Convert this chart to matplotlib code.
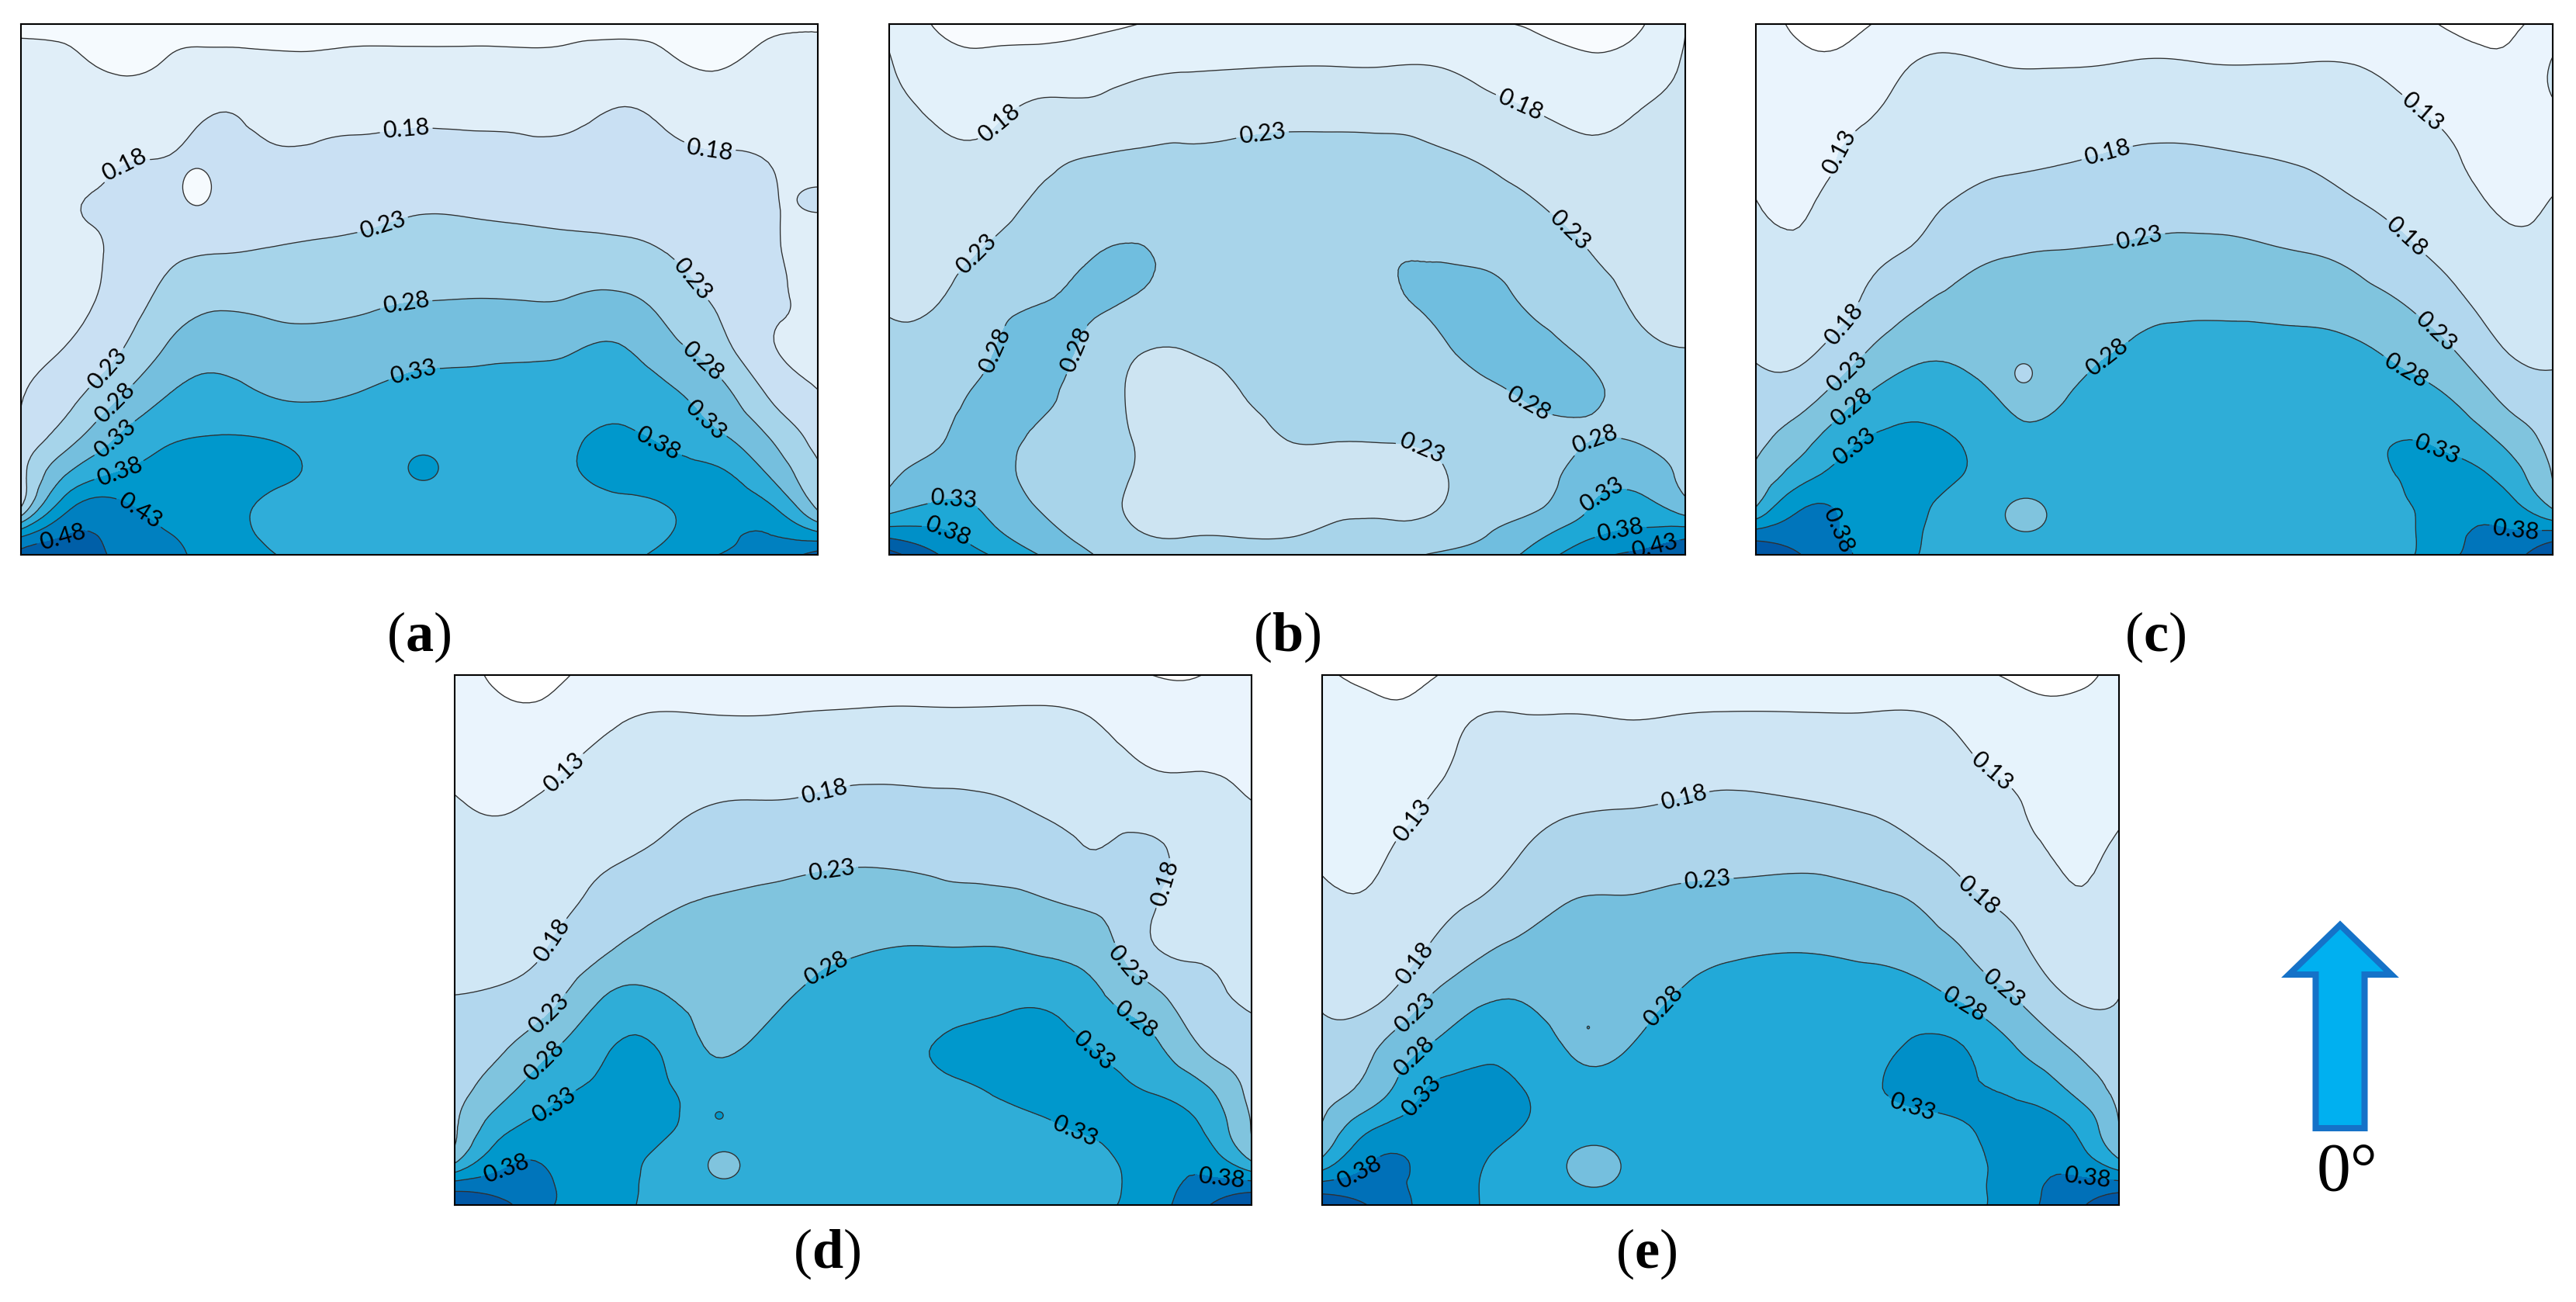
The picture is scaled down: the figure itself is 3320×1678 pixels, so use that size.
import numpy as np
import matplotlib
matplotlib.use('Agg')
import matplotlib.pyplot as plt
import matplotlib.tri as mtri
from matplotlib.patches import FancyArrow, Ellipse

plt.rcParams['font.family'] = ['Lato', 'DejaVu Sans']
plt.rcParams['mathtext.fontset'] = 'custom'
plt.rcParams['mathtext.rm'] = 'Liberation Serif'
plt.rcParams['mathtext.bf'] = 'Liberation Serif:bold'

W, H = 3320, 1678

levels = [0, 0.08, 0.13, 0.18, 0.23, 0.28, 0.33, 0.38, 0.43, 0.48, 1]
line_levels = [0.08, 0.13, 0.18, 0.23, 0.28, 0.33, 0.38, 0.43, 0.48]

# sample rows, top to bottom, as fraction of panel height
v_rows = [1.0, .92, .84, .75, .66, .57, .48, .39, .30, .22, .15, .09, .04, 0.0]

# values, one list per column, left to right
panel_a = [
    [.128, .134, .140, .146, .153, .159, .165, .170, .178, .194, .213, .229, .410, .500],
    [.125, .134, .141, .150, .176, .168, .170, .183, .217, .265, .340, .425, .480, .500],
    [.120, .127, .147, .175, .190, .190, .200, .226, .278, .336, .386, .440, .460, .470],
    [.120, .134, .156, .181, .200, .220, .249, .287, .333, .375, .398, .415, .430, .440],
    [.120, .143, .178, .196, .212, .229, .270, .310, .349, .382, .395, .400, .405, .410],
    [.122, .138, .161, .186, .209, .233, .266, .298, .329, .378, .390, .370, .370, .385],
    [.122, .138, .161, .188, .212, .237, .265, .295, .325, .360, .372, .360, .355, .350],
    [.122, .140, .165, .192, .216, .243, .272, .303, .335, .355, .365, .360, .355, .350],
    [.122, .140, .167, .197, .224, .252, .279, .315, .345, .365, .372, .365, .355, .350],
    [.122, .140, .166, .195, .222, .251, .281, .317, .345, .360, .372, .365, .355, .350],
    [.122, .140, .165, .192, .218, .247, .280, .320, .347, .360, .370, .365, .355, .350],
    [.123, .142, .166, .191, .215, .243, .282, .325, .355, .372, .375, .365, .360, .350],
    [.123, .149, .181, .198, .216, .240, .290, .333, .365, .388, .390, .370, .360, .365],
    [.120, .138, .168, .190, .210, .229, .260, .295, .340, .370, .390, .380, .378, .395],
    [.115, .128, .156, .183, .196, .210, .223, .250, .300, .340, .390, .405, .415, .430],
    [.123, .140, .157, .178, .185, .187, .190, .186, .228, .282, .330, .390, .430, .445],
    [.128, .135, .140, .148, .155, .160, .168, .175, .182, .210, .240, .270, .390, .500],
]
panel_b = [
    [.175, .184, .192, .200, .209, .218, .226, .237, .251, .263, .274, .310, .410, .500],
    [.125, .149, .172, .190, .203, .216, .229, .245, .262, .276, .300, .340, .390, .430],
    [.120, .142, .168, .190, .208, .235, .260, .275, .290, .295, .300, .320, .345, .380],
    [.115, .150, .188, .216, .238, .258, .278, .295, .288, .272, .265, .278, .300, .330],
    [.120, .155, .190, .230, .250, .276, .286, .270, .260, .255, .250, .250, .262, .285],
    [.130, .168, .205, .235, .260, .283, .276, .235, .222, .226, .226, .222, .232, .245],
    [.145, .176, .208, .237, .255, .265, .258, .232, .215, .210, .210, .215, .228, .240],
    [.150, .178, .212, .238, .250, .255, .250, .240, .228, .213, .210, .216, .228, .240],
    [.150, .180, .215, .240, .250, .255, .250, .245, .240, .231, .215, .218, .228, .240],
    [.150, .180, .215, .240, .250, .258, .250, .245, .240, .232, .215, .223, .235, .245],
    [.150, .180, .214, .243, .265, .276, .270, .250, .238, .232, .220, .225, .238, .260],
    [.148, .180, .210, .235, .255, .275, .290, .270, .250, .238, .225, .228, .250, .285],
    [.135, .165, .193, .225, .245, .270, .295, .300, .265, .250, .248, .260, .278, .300],
    [.125, .150, .178, .207, .232, .255, .270, .295, .290, .260, .258, .275, .315, .350],
    [.110, .140, .167, .190, .210, .232, .250, .270, .290, .277, .305, .325, .365, .410],
    [.122, .150, .178, .190, .203, .215, .226, .240, .260, .277, .310, .350, .390, .440],
    [.180, .186, .193, .200, .208, .216, .223, .230, .246, .260, .272, .300, .410, .470],
]
panel_c = [
    [.100, .108, .115, .123, .131, .146, .160, .175, .195, .216, .240, .280, .400, .480],
    [.070, .088, .100, .115, .127, .140, .158, .172, .212, .265, .315, .380, .400, .425],
    [.070, .097, .118, .140, .153, .167, .177, .213, .270, .322, .352, .365, .370, .378],
    [.100, .128, .140, .154, .167, .181, .215, .260, .305, .340, .350, .350, .345, .340],
    [.100, .138, .148, .165, .183, .210, .240, .270, .300, .330, .335, .310, .305, .310],
    [.105, .130, .150, .172, .195, .227, .246, .260, .275, .295, .300, .300, .305, .310],
    [.100, .129, .152, .175, .203, .231, .245, .258, .272, .295, .300, .300, .305, .310],
    [.105, .131, .156, .182, .212, .233, .255, .274, .298, .310, .315, .315, .315, .320],
    [.110, .135, .160, .188, .216, .238, .266, .290, .300, .310, .315, .315, .315, .320],
    [.110, .132, .158, .186, .214, .241, .270, .292, .310, .315, .318, .318, .318, .322],
    [.110, .131, .155, .181, .210, .237, .268, .292, .310, .315, .318, .318, .318, .322],
    [.110, .132, .152, .175, .200, .230, .263, .292, .310, .315, .318, .318, .318, .322],
    [.110, .131, .147, .165, .184, .217, .250, .287, .310, .320, .325, .322, .320, .322],
    [.100, .120, .134, .150, .168, .190, .227, .264, .300, .329, .332, .325, .320, .320],
    [.072, .105, .120, .133, .148, .165, .191, .229, .275, .315, .345, .360, .370, .375],
    [.070, .090, .105, .115, .126, .140, .160, .180, .220, .270, .315, .355, .385, .400],
    [.100, .135, .125, .120, .132, .140, .155, .172, .192, .211, .228, .274, .395, .480],
]
panel_d = [
    [.100, .110, .120, .133, .145, .157, .167, .181, .196, .210, .223, .255, .395, .480],
    [.070, .090, .110, .128, .142, .155, .168, .187, .225, .265, .315, .365, .400, .440],
    [.070, .095, .120, .140, .155, .168, .185, .220, .275, .316, .345, .370, .380, .380],
    [.100, .120, .140, .155, .172, .195, .225, .282, .322, .340, .350, .355, .355, .350],
    [.100, .133, .147, .165, .187, .220, .247, .288, .331, .345, .345, .325, .320, .320],
    [.100, .132, .152, .180, .207, .232, .250, .266, .280, .305, .315, .310, .310, .315],
    [.100, .131, .155, .185, .214, .237, .252, .266, .285, .310, .320, .315, .315, .315],
    [.100, .134, .160, .187, .219, .243, .265, .285, .305, .315, .320, .320, .320, .320],
    [.100, .137, .165, .194, .223, .250, .276, .300, .310, .318, .320, .320, .320, .320],
    [.100, .139, .165, .194, .222, .250, .283, .305, .320, .323, .320, .320, .320, .320],
    [.100, .138, .165, .191, .218, .243, .283, .312, .336, .325, .320, .320, .320, .320],
    [.100, .138, .160, .186, .212, .243, .283, .320, .345, .336, .320, .320, .320, .320],
    [.100, .137, .152, .172, .198, .232, .272, .318, .348, .345, .328, .320, .320, .320],
    [.090, .125, .145, .163, .183, .215, .252, .284, .322, .345, .342, .322, .320, .325],
    [.080, .100, .125, .155, .190, .183, .186, .247, .290, .325, .360, .365, .355, .355],
    [.080, .100, .125, .140, .152, .163, .175, .194, .227, .290, .328, .360, .390, .420],
    [.100, .110, .120, .132, .143, .153, .163, .176, .193, .212, .228, .266, .395, .470],
]
panel_e = [
    [.085, .095, .105, .115, .125, .140, .157, .175, .194, .213, .232, .280, .390, .470],
    [.070, .090, .100, .112, .123, .137, .153, .170, .222, .250, .320, .375, .395, .425],
    [.070, .095, .110, .130, .148, .162, .178, .222, .275, .324, .350, .370, .370, .370],
    [.100, .128, .140, .150, .160, .180, .217, .268, .310, .345, .350, .340, .335, .335],
    [.100, .132, .145, .163, .181, .207, .243, .278, .310, .331, .331, .315, .310, .310],
    [.100, .132, .150, .175, .203, .231, .245, .259, .275, .300, .310, .305, .305, .310],
    [.100, .129, .152, .179, .209, .233, .245, .260, .275, .300, .310, .305, .305, .310],
    [.105, .131, .156, .184, .214, .238, .259, .280, .300, .310, .315, .315, .315, .315],
    [.105, .134, .162, .190, .217, .243, .272, .297, .310, .315, .318, .318, .318, .318],
    [.105, .134, .160, .188, .218, .247, .278, .300, .313, .318, .320, .320, .320, .320],
    [.105, .133, .156, .183, .217, .248, .278, .300, .313, .318, .320, .320, .320, .320],
    [.105, .133, .152, .176, .208, .241, .273, .298, .315, .325, .320, .320, .320, .320],
    [.105, .133, .148, .166, .188, .226, .260, .297, .338, .340, .322, .320, .320, .320],
    [.090, .118, .133, .150, .167, .189, .226, .268, .325, .334, .330, .320, .320, .320],
    [.074, .097, .115, .132, .147, .168, .188, .226, .275, .320, .345, .360, .360, .360],
    [.070, .090, .100, .113, .124, .138, .160, .180, .228, .275, .330, .360, .390, .410],
    [.090, .100, .110, .124, .138, .152, .166, .180, .198, .215, .230, .275, .395, .470],
]

# small closed islands: (u, v, width, height, band index)
spots_a = [(.221, .693, .036, .070, 1), (.505, .164, .038, .048, 7), (1.0, .669, .052, .048, 3)]
spots_b = []
spots_c = [(.336, .342, .022, .036, 3), (.339, .075, .052, .063, 4)]
spots_d = [(.338, .075, .040, .051, 4), (.332, .169, .010, .014, 6)]
spots_e = [(.341, .073, .068, .079, 4), (.334, .335, .003, .005, 5)]

# fill colours, one for each band between levels
colors_a = ['#f5fafe', '#f5fafe', '#e0eef8', '#c9e0f3', '#a6d4ea', '#75bfde', '#2fadd9', '#0098cc', '#0080c0', '#005fa8']
colors_b = ['#f8fbfe', '#f8fbfe', '#e3f1fa', '#cde4f2', '#a8d4ea', '#70bedf', '#1ea8d6', '#0090c8', '#0060a8', '#0050a0']
colors_c = ['#ffffff', '#eaf4fd', '#d0e7f5', '#b2d7ee', '#80c4de', '#2fadd7', '#0098cc', '#0075bb', '#0058a6', '#0058a6']
colors_d = colors_c
colors_e = ['#ffffff', '#e6f3fc', '#cee5f4', '#aed5eb', '#75bfde', '#22a9d8', '#008fc8', '#0070b8', '#0058a6', '#0058a6']

# label spots as read in the zoomed crops, with the crop frame (x0, width, ybottom, height)
labels_a = [(230, 395), (747, 310), (1305, 342), (198, 878), (702, 530), (1262, 675), (213, 962), (747, 725), (1292, 860),
            (213, 1045), (760, 882), (1305, 990), (218, 1115), (1205, 1065), (258, 1215), (115, 1278)]
labels_b = [(238, 292), (1195, 255), (197, 605), (723, 320), (1285, 550), (1007, 1098), (228, 832), (390, 838), (1208, 968),
            (1340, 1070), (155, 1220), (1360, 1205), (140, 1278), (1380, 1258), (1440, 1282)]
labels_c = [(225, 367), (1280, 275), (705, 355), (222, 770), (1253, 570), (230, 888), (765, 565), (1310, 790), (238, 970),
            (715, 868), (1262, 865), (240, 1060), (1310, 1075), (188, 1262), (1455, 1278)]
labels_d = [(238, 275), (715, 318), (220, 690), (1340, 545), (730, 515), (208, 862), (1282, 740), (202, 982), (720, 755),
            (1288, 878), (215, 1080), (1218, 945), (1178, 1145), (132, 1245), (1445, 1268)]
labels_e = [(205, 385), (1278, 275), (712, 335), (220, 745), (1250, 583), (756, 537), (222, 868), (1298, 808), (218, 970),
            (682, 855), (1230, 838), (228, 1065), (1135, 1083), (120, 1262), (1452, 1295)]

panels = [
    (panel_a, spots_a, colors_a, labels_a, (39, 1464, 1320, 1263), (27, 31, 1054, 715)),
    (panel_b, spots_b, colors_b, labels_b, (37, 1463, 1320, 1263), (1146, 31, 2172, 715)),
    (panel_c, spots_c, colors_c, labels_c, (61, 1465, 1320, 1263), (2263, 31, 3290, 715)),
    (panel_d, spots_d, colors_d, labels_d, (37, 1464, 1332, 1294), (586, 870, 1613, 1553)),
    (panel_e, spots_e, colors_e, labels_e, (48, 1465, 1332, 1294), (1704, 870, 2731, 1553)),
]

fig = plt.figure(figsize=(W / 100, H / 100), dpi=100, facecolor='white')

for cols, spots, colors, labels, frame, box in panels:
    x0, y0, x1, y1 = box
    ax = fig.add_axes([x0 / W, 1 - y1 / H, (x1 - x0) / W, (y1 - y0) / H])
    z = np.array(cols)
    uu, vv = np.meshgrid(np.linspace(0, 1, z.shape[0]), v_rows, indexing='ij')
    tri = mtri.Triangulation(uu.ravel(), vv.ravel())
    refiner = mtri.UniformTriRefiner(tri)
    tri2, z2 = refiner.refine_field(z.ravel(), subdiv=3)
    ax.tricontourf(tri2, z2, levels=levels, colors=colors)
    cs = ax.tricontour(tri2, z2, levels=line_levels, colors='#303030', linewidths=0.95)
    for su, sv, sw, sh, band in spots:
        ax.add_patch(Ellipse((su, sv), sw, sh, facecolor=colors[band], edgecolor='#303030', linewidth=0.95, zorder=3))
    pts = [((px - frame[0]) / frame[1], (frame[2] - py) / frame[3]) for px, py in labels]
    ax.clabel(cs, fmt='%.2f', manual=pts, fontsize=22, colors='black', inline=True, inline_spacing=4)
    ax.set_xlim(0, 1)
    ax.set_ylim(0, 1)
    ax.set_xticks([])
    ax.set_yticks([])
    for s in ax.spines.values():
        s.set_linewidth(1.5)
        s.set_color('black')
        s.set_zorder(5)

# overlay in pixel units for captions and the arrow
over = fig.add_axes([0, 0, 1, 1])
over.set_xlim(0, W)
over.set_ylim(H, 0)
over.axis('off')
over.patch.set_alpha(0)

captions = [('a', 540, 821), ('b', 1659, 821), ('c', 2778, 821), ('d', 1066, 1616), ('e', 2122, 1616)]
for name, cx, cy in captions:
    over.text(cx, cy, '($\\mathbf{%s}$)' % name, fontsize=52, ha='center', va='center',
              family=['Liberation Serif'])

over.add_patch(FancyArrow(3016, 1454, 0, -262, width=63, head_width=132, head_length=64,
                          length_includes_head=True, facecolor='#00b0f0', edgecolor='#1572c8',
                          linewidth=5.8, joinstyle='miter'))
over.text(3025, 1512, '0°', fontsize=63, ha='center', va='center', family=['Liberation Serif'])

fig.savefig('out.png', dpi=100)
